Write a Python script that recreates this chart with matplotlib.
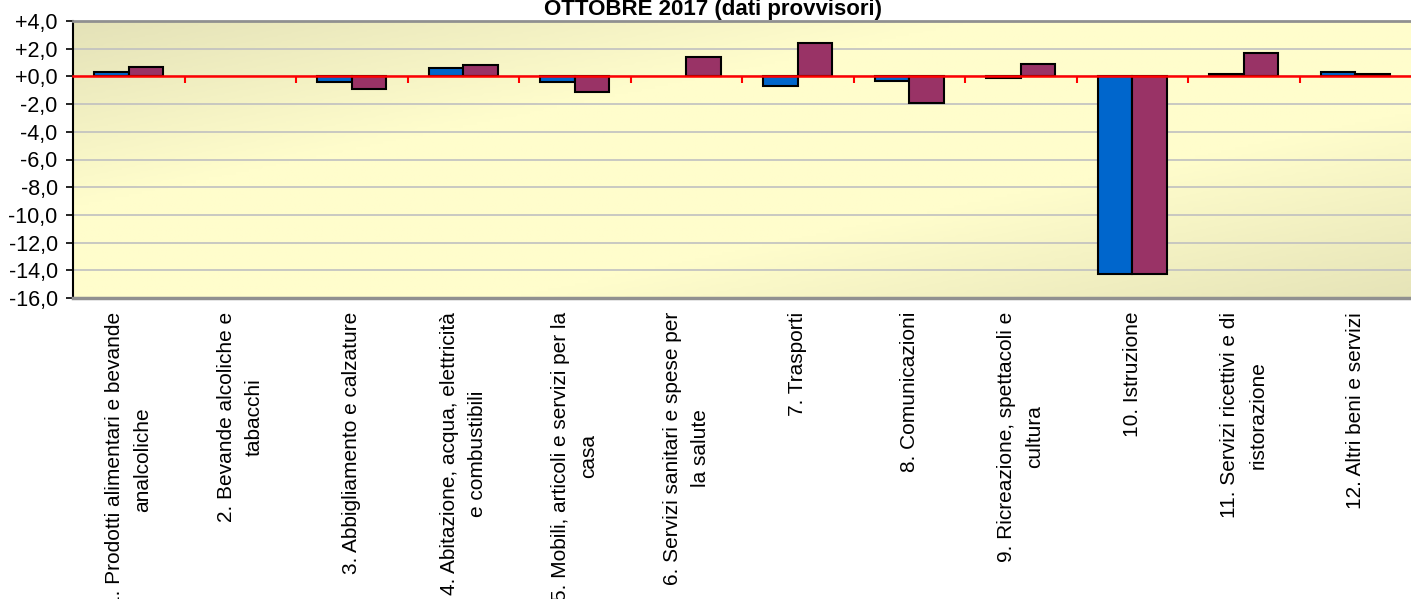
import numpy as np
import matplotlib
matplotlib.use("Agg")
import matplotlib.pyplot as plt
from matplotlib.colors import LinearSegmentedColormap

plt.rcParams['font.family'] = ['Liberation Sans', 'DejaVu Sans']

categories = [
    "1. Prodotti alimentari e bevande\nanalcoliche",
    "2. Bevande alcoliche e\ntabacchi",
    "3. Abbigliamento e calzature",
    "4. Abitazione, acqua, elettricità\ne combustibili",
    "5. Mobili, articoli e servizi per la\ncasa",
    "6. Servizi sanitari e spese per\nla salute",
    "7. Trasporti",
    "8. Comunicazioni",
    "9. Ricreazione, spettacoli e\ncultura",
    "10. Istruzione",
    "11. Servizi ricettivi e di\nristorazione",
    "12. Altri beni e servizi",
]
# None = no bar drawn
serie_blu = [0.3, None, -0.4, 0.6, -0.4, None, -0.7, -0.3, -0.1, -14.3, 0.2, 0.3]
serie_viola = [0.7, None, -0.9, 0.8, -1.1, 1.4, 2.4, -1.9, 0.9, -14.3, 1.7, 0.2]
y_ticks = [4, 2, 0, -2, -4, -6, -8, -10, -12, -14, -16]

fig = plt.figure(figsize=(14.11, 5.99), dpi=100)
ax = fig.add_axes([73 / 1411, 1 - 298 / 599, 1 - 73 / 1411, 277 / 599])

# background gradient: dark at top-left and bottom-right, light in between
cmap = LinearSegmentedColormap.from_list("bg", ["#E4E2B8", "#FFFDCC", "#FFFDCC", "#E6E4B8"])
gx, gy = np.meshgrid(np.linspace(0, 1, 300), np.linspace(0, 1, 100))
grad = (gx + gy) / 2
ax.imshow(grad, cmap=cmap, extent=[0, 1, 0, 1], transform=ax.transAxes,
          aspect='auto', zorder=0, origin='upper')

x = np.arange(len(categories))
w = 0.31
blu = np.array([np.nan if v is None else v for v in serie_blu])
viola = np.array([np.nan if v is None else v for v in serie_viola])
ax.bar(x - w / 2, blu, w, color="#0066CC", edgecolor="black", linewidth=1.5, zorder=3)
ax.bar(x + w / 2, viola, w, color="#993366", edgecolor="black", linewidth=1.5, zorder=3)

ax.set_xlim(-0.5, len(categories) - 0.5)
ax.set_ylim(-16, 4)
ax.set_yticks(y_ticks)
ax.set_yticklabels([f"{v:+.1f}".replace(".", ",") if v != 0 else "+0,0" for v in y_ticks])
ax.yaxis.grid(True, color="#C0C0C0", linewidth=1.2, zorder=1)
ax.set_axisbelow(True)
ax.tick_params(axis='y', length=5, width=1.2, color="black", pad=6, labelsize=15.5)

# zero axis in red with boundary ticks
ax.spines['bottom'].set_position(('data', 0))
ax.spines['bottom'].set_color("red")
ax.spines['bottom'].set_linewidth(1.8)
ax.spines['bottom'].set_zorder(4)
ax.set_xticks(x)
ax.set_xticklabels([])
ax.tick_params(axis='x', which='major', length=0)
ax.set_xticks(np.arange(0.5, len(categories) - 0.5, 1), minor=True)
ax.tick_params(axis='x', which='minor', length=5, width=1.5, color="red", direction='out')

ax.spines['left'].set_linewidth(1.5)
ax.spines['top'].set_color("#909090")
ax.spines['top'].set_linewidth(2)
ax.spines['right'].set_visible(False)
# gray bottom frame of plot area
ax.axhline(-16, color="#909090", linewidth=2.5, zorder=5, clip_on=False)

sec = ax.secondary_xaxis('bottom')
sec.spines['bottom'].set_visible(False)
sec.set_xticks(x)
sec.set_xticklabels(categories, rotation=90, fontsize=15, ha='center', va='top',
                    multialignment='center', linespacing=1.6)
sec.tick_params(length=0, pad=10)

fig.text(713 / 1411, 1 - 15 / 599, "OTTOBRE 2017 (dati provvisori)", ha='center',
         va='baseline', fontsize=16, fontweight='bold')

fig.savefig("out.png", dpi=100)
